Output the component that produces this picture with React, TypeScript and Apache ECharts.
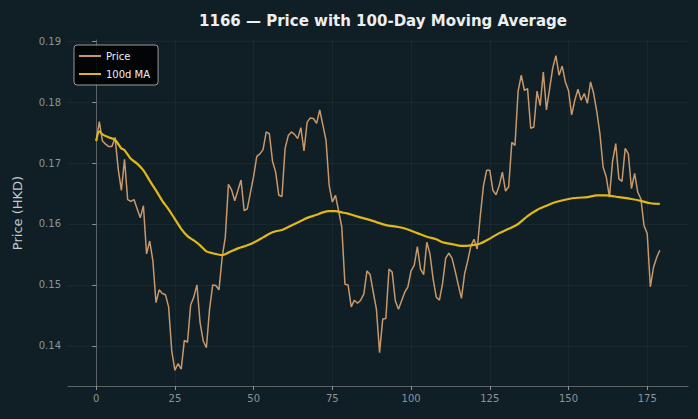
import React, { useEffect, useRef } from "react";
import * as echarts from "echarts";

const price: number[] = [
  0.1736, 0.1768, 0.1736, 0.1731, 0.1727, 0.1727, 0.1742, 0.1690, 0.1655, 0.1706,
  0.1640, 0.1637, 0.1640, 0.1625, 0.1610, 0.1630, 0.1551, 0.1572, 0.1540, 0.1471,
  0.1492, 0.1486, 0.1484, 0.1464, 0.1392, 0.1360, 0.1371, 0.1362, 0.1409, 0.1406,
  0.1467, 0.1480, 0.1500, 0.1438, 0.1408, 0.1397, 0.1460, 0.1500, 0.1499, 0.1492,
  0.1545, 0.1578, 0.1665, 0.1656, 0.1638, 0.1655, 0.1672, 0.1622, 0.1625, 0.1652,
  0.1678, 0.1711, 0.1715, 0.1722, 0.1751, 0.1748, 0.1703, 0.1685, 0.1647, 0.1645,
  0.1724, 0.1745, 0.1751, 0.1747, 0.1740, 0.1758, 0.1720, 0.1767, 0.1774, 0.1773,
  0.1765, 0.1787, 0.1762, 0.1737, 0.1663, 0.1636, 0.1647, 0.1621, 0.1595, 0.1501,
  0.1500, 0.1464, 0.1475, 0.1470, 0.1475, 0.1485, 0.1523, 0.1517, 0.1488, 0.1460,
  0.1389, 0.1444, 0.1445, 0.1526, 0.1521, 0.1474, 0.1460, 0.1474, 0.1488, 0.1497,
  0.1523, 0.1532, 0.1563, 0.1526, 0.1517, 0.1570, 0.1551, 0.1510, 0.1480, 0.1475,
  0.1502, 0.1544, 0.1552, 0.1544, 0.1523, 0.1500, 0.1478, 0.1518, 0.1540, 0.1564,
  0.1575, 0.1559, 0.1614, 0.1663, 0.1688, 0.1688, 0.1655, 0.1648, 0.1663, 0.1685,
  0.1654, 0.1661, 0.1734, 0.1729, 0.1818, 0.1844, 0.1819, 0.1822, 0.1757, 0.1759,
  0.1818, 0.1794, 0.1849, 0.1787, 0.1822, 0.1856, 0.1876, 0.1844, 0.1859, 0.1833,
  0.1819, 0.1779, 0.1803, 0.1821, 0.1803, 0.1814, 0.1798, 0.1833, 0.1814, 0.1784,
  0.1747, 0.1693, 0.1677, 0.1644, 0.1703, 0.1732, 0.1674, 0.1670, 0.1724, 0.1715,
  0.1658, 0.1683, 0.1652, 0.1641, 0.1597, 0.1584, 0.1497, 0.1529, 0.1545, 0.1557,
];

const maDay: number[] = [
  0, 1, 2, 4, 6, 8, 9, 11, 13, 15, 17, 19, 21, 23, 25, 27, 29, 31, 33, 35, 37, 40,
  42, 45, 48, 51, 53, 55, 57, 59, 61, 63, 65, 67, 70, 72, 74, 76, 78, 80, 83, 86,
  89, 92, 96, 99, 102, 105, 108, 110, 113, 116, 119, 122, 125, 128, 131, 134, 137,
  140, 143, 146, 150, 153, 156, 159, 162, 166, 170, 173, 176, 179,
];
const maValue: number[] = [
  0.1736, 0.1752, 0.1747, 0.1742, 0.1738, 0.1724, 0.1721, 0.1707, 0.1699, 0.1688,
  0.1671, 0.1655, 0.1638, 0.1624, 0.1608, 0.1592, 0.1580, 0.1573, 0.1565, 0.1555,
  0.1552, 0.1549, 0.1553, 0.1560, 0.1565, 0.1572, 0.1578, 0.1584, 0.1588, 0.1590,
  0.1595, 0.1600, 0.1605, 0.1610, 0.1615, 0.1619, 0.1621, 0.1621, 0.1619, 0.1617,
  0.1612, 0.1608, 0.1603, 0.1598, 0.1595, 0.1591, 0.1585, 0.1579, 0.1575, 0.1570,
  0.1567, 0.1564, 0.1565, 0.1568, 0.1576, 0.1585, 0.1592, 0.1600, 0.1613, 0.1623,
  0.1630, 0.1636, 0.1641, 0.1643, 0.1644, 0.1647, 0.1647, 0.1644, 0.1641, 0.1638,
  0.1634, 0.1633,
];

const xTicks: number[] = [0, 25, 50, 75, 100, 125, 150, 175];
const yTicks: number[] = [0.14, 0.15, 0.16, 0.17, 0.18, 0.19];

const BG = "#0f1f25";
const FONT = "DejaVu Sans";

export default function App() {
  const ref = useRef<HTMLDivElement>(null);
  useEffect(() => {
    if (!ref.current) return;
    const chart = echarts.init(ref.current, undefined, { renderer: "svg" });
    const priceData = price.map((v, i) => [i, v]);
    const maData = maDay.map((d, i) => [d, maValue[i]]);
    chart.setOption({
      animation: false,
      backgroundColor: BG,
      textStyle: { fontFamily: FONT },
      title: {
        text: "1166 — Price with 100-Day Moving Average",
        left: 378,
        top: 8,
        textAlign: "center",
        textStyle: { color: "#eeeeee", fontSize: 15, fontWeight: "bold", fontFamily: FONT },
      },
      legend: {
        left: 74,
        top: 45,
        orient: "vertical",
        backgroundColor: "rgba(0,0,0,0.85)",
        borderColor: "#9a9a9a",
        borderWidth: 1,
        borderRadius: 3,
        padding: [6, 8, 6, 5],
        itemGap: 8,
        itemWidth: 22,
        itemHeight: 2,
        icon: "rect",
        textStyle: { color: "#eeeeee", fontSize: 10, fontFamily: FONT },
        data: ["Price", "100d MA"],
      },
      grid: { left: 68, right: 10, top: 40, bottom: 33, containLabel: false },
      xAxis: {
        type: "value",
        min: -8.95,
        max: 187.95,
        axisLine: { show: true, lineStyle: { color: "#5a6266" } },
        axisTick: { show: true, customValues: xTicks, length: 4, lineStyle: { color: "#8a9498" } },
        axisLabel: {
          customValues: xTicks,
          color: "#8a9498",
          fontSize: 10,
          margin: 7,
          fontFamily: FONT,
        },
        splitLine: { show: true, lineStyle: { color: "rgba(255,255,255,0.045)" } },
      },
      yAxis: {
        type: "value",
        min: 0.13342,
        max: 0.19018,
        name: "Price (HKD)",
        nameLocation: "middle",
        nameGap: 44,
        nameTextStyle: { color: "#c4cbce", fontSize: 13, fontFamily: FONT },
        axisLine: { show: true, lineStyle: { color: "#5a6266" } },
        axisTick: { show: true, customValues: yTicks, length: 4, lineStyle: { color: "#8a9498" } },
        axisLabel: {
          customValues: yTicks,
          color: "#8a9498",
          fontSize: 10,
          margin: 7,
          fontFamily: FONT,
          formatter: (v: number) => v.toFixed(2),
        },
        splitLine: { show: true, lineStyle: { color: "rgba(255,255,255,0.045)" } },
      },
      series: [
        {
          name: "Price",
          type: "line",
          data: priceData,
          symbol: "none",
          lineStyle: { color: "#c8986b", width: 1.5 },
          itemStyle: { color: "#c8986b" },
          z: 2,
        },
        {
          name: "100d MA",
          type: "line",
          data: maData,
          symbol: "none",
          smooth: 0.3,
          lineStyle: { color: "#e2b818", width: 2.2 },
          itemStyle: { color: "#e2b818" },
          z: 3,
        },
      ],
    });
    return () => chart.dispose();
  }, []);
  return <div ref={ref} style={{ width: 698, height: 419, position: "absolute", left: 0, top: 0 }} />;
}
